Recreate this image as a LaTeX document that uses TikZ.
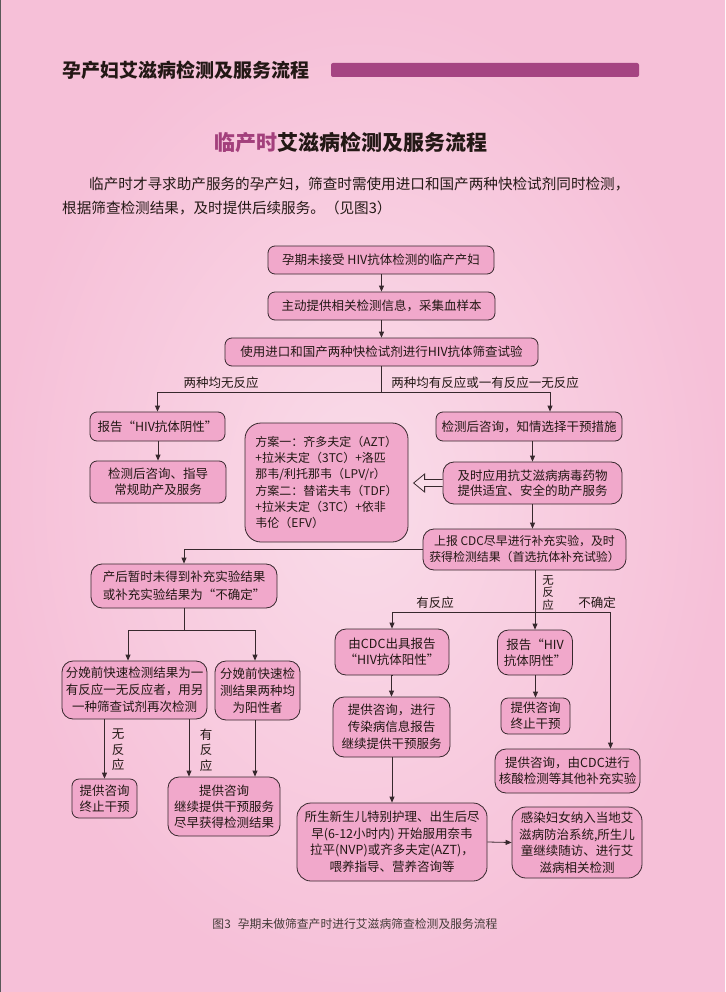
\documentclass[tikz,border=0pt]{standalone}
\usepackage{fontspec}
\setmainfont{Noto Sans CJK SC}
\usetikzlibrary{arrows.meta,calc}
\definecolor{bgout}{RGB}{246,192,216}
\definecolor{bgin}{RGB}{250,220,233}
\definecolor{boxfill}{RGB}{241,168,203}
\definecolor{ink}{RGB}{35,24,21}
\definecolor{lineclr}{RGB}{55,40,45}
\definecolor{accent}{RGB}{165,68,130}
\definecolor{titleaccent}{RGB}{163,64,124}
\begin{document}
\begin{tikzpicture}[x=1pt,y=-1pt,
  box/.style={draw=lineclr, line width=0.8pt, fill=boxfill, rounded corners=7pt, align=center, inner sep=0pt, text=ink, font=\fontsize{12.5}{16}\selectfont},
  bigbox/.style={box, rounded corners=11pt},
  arr/.style={draw=lineclr, line width=0.8pt, -{Triangle[width=5pt,length=6pt]}},
  ln/.style={draw=lineclr, line width=0.8pt},
  lbl/.style={text=ink, font=\fontsize{12.5}{15.5}\selectfont, inner sep=0pt, align=center},
]
\useasboundingbox (0,0) rectangle (725,992);
\shade[inner color=bgin, outer color=bgout] (0,0) rectangle (725,992);
\draw[gray!70!black, line width=1pt] (0.5,0) -- (0.5,992);

% header
\node[anchor=west, inner sep=0pt, text=ink, font=\fontsize{19}{19}\selectfont\bfseries] (hdr) at (62,70) {孕产妇艾滋病检测及服务流程};
\fill[accent, rounded corners=2pt] (331,63) rectangle (639,77);

% title
\node[inner sep=0pt, font=\fontsize{21}{21}\selectfont\bfseries, text=ink] (title) at (351,143) {\textcolor{titleaccent}{临产时}艾滋病检测及服务流程};

% paragraph
\node[anchor=west, inner sep=0pt, text=ink, font=\fontsize{14.6}{14.6}\selectfont] (p1) at (89,184) {临产时才寻求助产服务的孕产妇，筛查时需使用进口和国产两种快检试剂同时检测，};
\node[anchor=west, inner sep=0pt, text=ink, font=\fontsize{14.6}{14.6}\selectfont] (p2) at (62,208) {根据筛查检测结果，及时提供后续服务。（见图3）};

% boxes
\node[box, minimum width=226, minimum height=28] (B1) at (381,260) {孕期未接受 HIV抗体检测的临产产妇};
\node[box, minimum width=227, minimum height=28] (B2) at (381.5,306) {主动提供相关检测信息，采集血样本};
\node[box, minimum width=313, minimum height=28] (B3) at (381.5,352) {使用进口和国产两种快检试剂进行HIV抗体筛查试验};
\node[box, minimum width=135, minimum height=29] (B4) at (157.5,426.5) {报告“HIV抗体阴性”};
\node[box, minimum width=136, minimum height=42] (B5) at (158,482) {检测后咨询、指导\\常规助产及服务};
\node[box, rounded corners=16pt, align=left, minimum width=163, minimum height=119, font=\fontsize{12}{16.3}\selectfont] (B6) at (326.5,482.5) {方案一：齐多夫定（AZT）\\+拉米夫定（3TC）+洛匹\\那韦/利托那韦（LPV/r）\\方案二：替诺夫韦（TDF）\\+拉米夫定（3TC）+依非\\韦伦（EFV）};
\node[box, minimum width=186, minimum height=29] (B7) at (529,426.5) {检测后咨询，知情选择干预措施};
\node[bigbox, minimum width=179, minimum height=42, font=\fontsize{12.5}{15.5}\selectfont] (B8) at (532.5,483) {及时应用抗艾滋病病毒药物\\提供适宜、安全的助产服务};
\node[bigbox, minimum width=203, minimum height=41, font=\fontsize{11.9}{16}\selectfont] (B9) at (524.5,549.5) {上报 CDC尽早进行补充实验，及时\\获得检测结果（首选抗体补充试验）};
\node[bigbox, minimum width=186, minimum height=44, font=\fontsize{12.5}{18}\selectfont] (B10) at (184,586) {产后暂时未得到补充实验结果\\或补充实验结果为“不确定”};
\node[bigbox, minimum width=145, minimum height=58, font=\fontsize{12.5}{17}\selectfont] (B11) at (134.5,690) {分娩前快速检测结果为一\\有反应一无反应者，用另\\一种筛查试剂再次检测};
\node[bigbox, minimum width=85, minimum height=59, font=\fontsize{12.5}{17}\selectfont] (B12) at (257.5,690.5) {分娩前快速检\\测结果两种均\\为阳性者};
\node[box, minimum width=65, minimum height=39] (B13) at (104.5,798.5) {提供咨询\\终止干预};
\node[bigbox, minimum width=112, minimum height=59] (B14) at (224,806.5) {提供咨询\\继续提供干预服务\\尽早获得检测结果};
\node[bigbox, minimum width=114, minimum height=46] (B15) at (392,652) {由CDC出具报告\\“HIV抗体阳性”};
\node[bigbox, minimum width=75, minimum height=45] (B16) at (535,652.5) {报告“HIV\\抗体阴性”};
\node[box, minimum width=69, minimum height=36] (B17) at (535.5,716) {提供咨询\\终止干预};
\node[bigbox, minimum width=117, minimum height=60, font=\fontsize{12.5}{17}\selectfont] (B18) at (391.5,727) {提供咨询，进行\\传染病信息报告\\继续提供干预服务};
\node[bigbox, minimum width=145, minimum height=44] (B19) at (567.5,771) {提供咨询，由CDC进行\\核酸检测等其他补充实验};
\node[bigbox, rounded corners=14pt, minimum width=190, minimum height=78, font=\fontsize{12.5}{16.5}\selectfont] (B20) at (392,842) {所生新生儿特别护理、出生后尽\\早(6-12小时内) 开始服用奈韦\\拉平(NVP)或齐多夫定(AZT)，\\喂养指导、营养咨询等};
\node[bigbox, rounded corners=14pt, minimum width=130, minimum height=71, font=\fontsize{12.5}{16.5}\selectfont] (B21) at (577,842.5) {感染妇女纳入当地艾\\滋病防治系统,所生儿\\童继续随访、进行艾\\滋病相关检测};

% labels
\node[lbl] (L1) at (221,383) {两种均无反应};
\node[lbl] (L2) at (485,383) {两种均有反应或一有反应一无反应};
\node[lbl] (L3) at (435,603) {有反应};
\node[lbl] (L4) at (597,603) {不确定};
\node[lbl, font=\fontsize{11.5}{12.5}\selectfont] (L5) at (548,593) {无\\反\\应};
\node[lbl] (L6) at (118,750) {无\\反\\应};
\node[lbl] (L7) at (206,750) {有\\反\\应};

% connectors
\draw[arr] (B2.north |- B1.south) -- (B2.north);
\draw[arr] (B3.north |- B2.south) -- (B3.north);
\draw[ln] (B3.south) -- ++(0,26) coordinate (j1);
\draw[arr] (j1) -| (B4.north);
\coordinate (c7) at ($(B7.north)+(21,0)$);
\draw[arr] (j1) -| (c7);
\draw[arr] (B5.north |- B4.south) -- (B5.north);
\draw[arr] (B8.north |- B7.south) -- (B8.north);
\draw[arr] (B8.south) -- (B8.south |- B9.north);
% hollow arrow B8 -> B6
\draw[lineclr, line width=0.8pt, fill=bgin, line join=miter]
  ($(B8.west)+(0,-3.5)$) -- ($(B8.west)+(-18,-3.5)$) -- ($(B8.west)+(-18,-9)$) -- ($(B8.west)+(-29,0)$)
  -- ($(B8.west)+(-18,9)$) -- ($(B8.west)+(-18,3.5)$) -- ($(B8.west)+(0,3.5)$);
\draw[arr] (B9.west) -| (B10.north);
\draw[ln] (B10.south) -- ++(0,22) coordinate (j2);
\coordinate (c11) at ($(B11.north)+(-6.5,0)$);
\coordinate (c12) at ($(B12.north)+(-2.5,0)$);
\draw[arr] (j2) -| (c11);
\draw[arr] (j2) -| (c12);
\draw[arr] (B13.north |- B11.south) -- (B13.north);
\coordinate (c14a) at ($(B14.north)+(-35,0)$);
\coordinate (c14b) at ($(B14.north)+(31,0)$);
\draw[arr] (c14a |- B11.south) -- (c14a);
\draw[arr] (c14b |- B12.south) -- (c14b);
% right lower branch
\coordinate (s9) at (B16.north |- B9.south);
\draw[arr] (s9) -- (B16.north);
\path (s9) ++(0,42) coordinate (j3);
\draw[arr] (j3) -| (B15.north);
\coordinate (c19) at ($(B19.north)+(43,0)$);
\draw[arr] (j3) -| (c19);
\draw[arr] (B15.south) -- (B18.north |- B15.south) -- (B18.north);
\draw[arr] (B17.north |- B16.south) -- (B17.north);
\draw[arr] (B20.north |- B18.south) -- (B20.north);
\draw[arr] (B20.east) -- (B21.west);

% caption
\node[inner sep=0pt, text=ink!85, font=\fontsize{11.8}{11.8}\selectfont] (cap) at (355,924) {图3\hspace{0.6em}孕期未做筛查产时进行艾滋病筛查检测及服务流程};
\end{tikzpicture}
\end{document}
